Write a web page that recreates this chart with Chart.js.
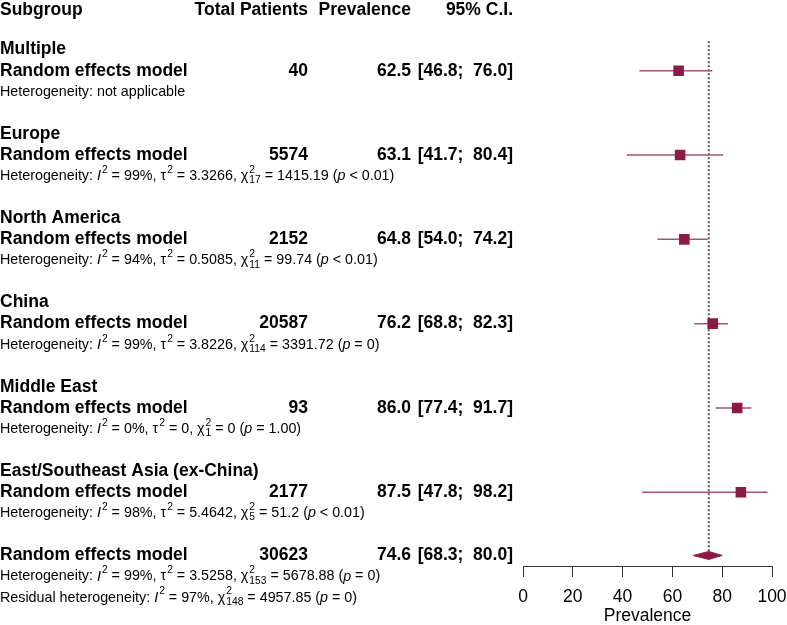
<!DOCTYPE html>
<html>
<head>
<meta charset="utf-8">
<script src="https://cdn.jsdelivr.net/npm/chart.js@4.4.1/dist/chart.umd.min.js"></script>
<style>
  html, body { margin: 0; padding: 0; background: #fff; }
  canvas { display: block; }
</style>
</head>
<body>
<canvas id="forestChart" width="787" height="625"></canvas>
<script>
// subgroup results
const subgroups = ['Multiple', 'Europe', 'North America', 'China', 'Middle East', 'East/Southeast Asia (ex-China)'];
const totals = [40, 5574, 2152, 20587, 93, 2177];
const estimates = [62.5, 63.1, 64.8, 76.2, 86.0, 87.5];
const lower = [46.8, 41.7, 54.0, 68.8, 77.4, 47.8];
const upper = [76.0, 80.4, 74.2, 82.3, 91.7, 98.2];
const heterogeneity = [
  'Heterogeneity: not applicable',
  'Heterogeneity: {I}^{2} = 99%, τ^{2} = 3.3266, χ^{2}_{17} = 1415.19 ({p} < 0.01)',
  'Heterogeneity: {I}^{2} = 94%, τ^{2} = 0.5085, χ^{2}_{11} = 99.74 ({p} < 0.01)',
  'Heterogeneity: {I}^{2} = 99%, τ^{2} = 3.8226, χ^{2}_{114} = 3391.72 ({p} = 0)',
  'Heterogeneity: {I}^{2} = 0%, τ^{2} = 0, χ^{2}_{1} = 0 ({p} = 1.00)',
  'Heterogeneity: {I}^{2} = 98%, τ^{2} = 5.4642, χ^{2}_{5} = 51.2 ({p} < 0.01)'
];

// pooled result
const overallTotal = 30623;
const overallEstimate = 74.6;
const overallLower = 68.3;
const overallUpper = 80.0;
const overallHet = [
  'Heterogeneity: {I}^{2} = 99%, τ^{2} = 3.5258, χ^{2}_{153} = 5678.88 ({p} = 0)',
  'Residual heterogeneity: {I}^{2} = 97%, χ^{2}_{148} = 4957.85 ({p} = 0)'
];

const xTicks = [0, 20, 40, 60, 80, 100];
const headers = ['Subgroup', 'Total Patients', 'Prevalence', '95% C.I.'];

const FONT = '"Liberation Sans", Arial, Helvetica, sans-serif';
const BOLD = 17.5;
const SMALL = 14.3;
const squareColor = '#8b1a4b';
const lineColor = '#a45277';

// text line index on the y scale
const rowOf = i => 3 + 4 * i;
const overallRow = 26;

function fmtCI(lo, hi) {
  return '[' + lo.toFixed(1) + ';  ' + hi.toFixed(1) + ']';
}

function drawRich(ctx, str, x, y, size) {
  const parts = str.split(/(\^\{[^}]*\}|_\{[^}]*\}|\{[^}]*\})/).filter(s => s.length);
  let cx = x;
  let supStart = null, supW = 0;
  ctx.textAlign = 'left';
  ctx.textBaseline = 'middle';
  parts.forEach(p => {
    if (p.startsWith('^{')) {
      const t = p.slice(2, -1);
      ctx.font = (size * 0.72) + 'px ' + FONT;
      cx += 1;
      supStart = cx;
      supW = ctx.measureText(t).width;
      ctx.fillText(t, cx, y - size * 0.42);
      cx += supW;
    } else if (p.startsWith('_{')) {
      const t = p.slice(2, -1);
      ctx.font = (size * 0.72) + 'px ' + FONT;
      const w = ctx.measureText(t).width;
      const sx = supStart !== null ? supStart : cx;
      ctx.fillText(t, sx, y + size * 0.3);
      cx = Math.max(cx, sx + w);
      supStart = null;
    } else {
      const italic = p.startsWith('{');
      const t = italic ? p.slice(1, -1) : p;
      ctx.font = (italic ? 'italic ' : '') + size + 'px ' + FONT;
      ctx.fillText(t, cx, y);
      cx += ctx.measureText(t).width;
      supStart = null;
    }
  });
}

const textPlugin = {
  id: 'forestText',
  afterDraw(chart) {
    const ctx = chart.ctx;
    const y = chart.scales.y;
    const colX = [0, 308, 411, 513];
    ctx.save();
    ctx.fillStyle = '#000';
    ctx.textBaseline = 'middle';

    ctx.font = 'bold ' + BOLD + 'px ' + FONT;
    const hy = y.getPixelForValue(0.15);
    headers.forEach((h, j) => {
      ctx.textAlign = j === 0 ? 'left' : 'right';
      ctx.fillText(h, colX[j], hy);
    });

    subgroups.forEach((name, i) => {
      const r = rowOf(i);
      ctx.font = 'bold ' + BOLD + 'px ' + FONT;
      ctx.textAlign = 'left';
      ctx.fillText(name, 0, y.getPixelForValue(r - 1));
      const py = y.getPixelForValue(r);
      ctx.fillText('Random effects model', 0, py);
      ctx.textAlign = 'right';
      ctx.fillText(String(totals[i]), colX[1], py);
      ctx.fillText(estimates[i].toFixed(1), colX[2], py);
      ctx.fillText(fmtCI(lower[i], upper[i]), colX[3], py);
      drawRich(ctx, heterogeneity[i], 0, y.getPixelForValue(r + 1), SMALL);
    });

    const oy = y.getPixelForValue(overallRow);
    ctx.font = 'bold ' + BOLD + 'px ' + FONT;
    ctx.textAlign = 'left';
    ctx.fillText('Random effects model', 0, oy);
    ctx.textAlign = 'right';
    ctx.fillText(String(overallTotal), colX[1], oy);
    ctx.fillText(overallEstimate.toFixed(1), colX[2], oy);
    ctx.fillText(fmtCI(overallLower, overallUpper), colX[3], oy);
    overallHet.forEach((s, j) => drawRich(ctx, s, 0, y.getPixelForValue(overallRow + 1 + j), SMALL));
    ctx.restore();
  }
};

const ciSets = subgroups.map((name, i) => ({
  label: name + ' CI',
  data: [{ x: lower[i], y: rowOf(i) }, { x: upper[i], y: rowOf(i) }],
  showLine: true,
  borderColor: lineColor,
  borderWidth: 1.5,
  pointRadius: 0,
  order: 2
}));

const ctx = document.getElementById('forestChart').getContext('2d');
const chart = new Chart(ctx, {
  type: 'scatter',
  data: {
    datasets: [
      {
        label: 'Estimates',
        data: estimates.map((e, i) => ({ x: e, y: rowOf(i) })),
        pointStyle: 'rect',
        pointRadius: 7.5,
        pointHoverRadius: 7.5,
        backgroundColor: squareColor,
        borderColor: squareColor,
        borderWidth: 0,
        order: 0
      },
      {
        label: 'Pooled',
        data: [
          { x: overallLower, y: overallRow },
          { x: overallEstimate, y: overallRow - 0.19 },
          { x: overallUpper, y: overallRow },
          { x: overallEstimate, y: overallRow + 0.19 },
          { x: overallLower, y: overallRow }
        ],
        showLine: true,
        fill: 'shape',
        backgroundColor: squareColor,
        borderColor: squareColor,
        borderWidth: 1,
        pointRadius: 0,
        tension: 0,
        order: 1
      },
      {
        label: 'Pooled line',
        data: [{ x: overallEstimate, y: 1.6 }, { x: overallEstimate, y: overallRow }],
        showLine: true,
        borderColor: '#555',
        borderWidth: 2,
        borderDash: [2, 2],
        pointRadius: 0,
        order: 3
      },
      ...ciSets
    ]
  },
  options: {
    responsive: false,
    animation: false,
    events: [],
    layout: { padding: { left: 523, right: 15, top: 6.7, bottom: 0 } },
    plugins: {
      legend: { display: false },
      tooltip: { enabled: false }
    },
    scales: {
      x: {
        type: 'linear',
        min: 0,
        max: 100,
        afterBuildTicks: axis => { axis.ticks = xTicks.map(v => ({ value: v })); },
        afterFit: axis => {
          axis.height = 59;
          axis.paddingLeft = 5;
          axis.paddingRight = 15;
        },
        grid: { drawOnChartArea: false, drawTicks: true, tickLength: 11, color: '#333', lineWidth: 1 },
        border: { display: true, color: '#333', width: 1 },
        ticks: { color: '#000', padding: 9.5, maxRotation: 0, font: { family: FONT, size: BOLD } },
        title: {
          display: true,
          text: 'Prevalence',
          color: '#000',
          padding: { top: 0, bottom: 0 },
          font: { family: FONT, size: BOLD, lineHeight: 1.0 }
        }
      },
      y: {
        type: 'linear',
        display: false,
        min: 0,
        max: 26.5,
        reverse: true
      }
    }
  },
  plugins: [textPlugin]
});
</script>
</body>
</html>
